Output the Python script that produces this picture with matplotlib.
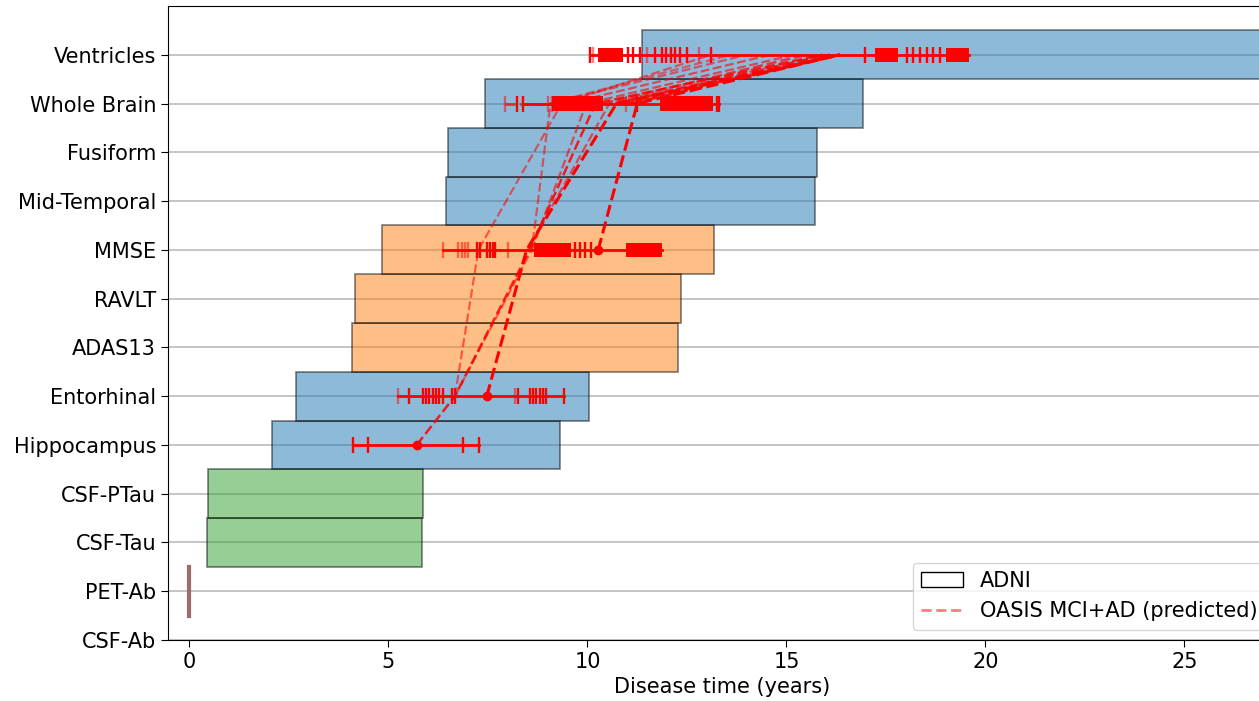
import numpy as np
import matplotlib
matplotlib.use('Agg')
import matplotlib.pyplot as plt
from matplotlib.patches import Patch
from matplotlib.lines import Line2D

# Biomarker rows (bottom to top)
labels = ['CSF-Ab', 'PET-Ab', 'CSF-Tau', 'CSF-PTau', 'Hippocampus', 'Entorhinal',
          'ADAS13', 'RAVLT', 'MMSE', 'Mid-Temporal', 'Fusiform', 'Whole Brain', 'Ventricles']
bar_start = [np.nan, 0.0, 0.44, 0.46, 2.07, 2.68, 4.08, 4.16, 4.84, 6.44, 6.50, 7.42, 11.37]
bar_end = [np.nan, 0.0, 5.84, 5.87, 9.31, 10.04, 12.27, 12.35, 13.18, 15.72, 15.77, 16.92, 30.0]
bar_color = ['tab:brown', 'tab:brown', 'tab:green', 'tab:green', 'tab:blue', 'tab:blue',
             'tab:orange', 'tab:orange', 'tab:orange', 'tab:blue', 'tab:blue', 'tab:blue', 'tab:blue']

# OASIS predicted event times: row -> horizontal range, caps, dense cap blocks, dot
hip_line = [4.10, 7.28]
hip_caps = [4.10, 4.49, 6.88, 7.28]
hip_dot = 5.71

ent_line = [5.25, 9.41]
ent_caps = [5.51, 5.87, 5.95, 6.03, 6.12, 6.20, 6.28, 6.36, 6.59, 6.67, 8.26, 8.55, 8.63, 8.71, 8.80, 8.88, 8.97, 9.41]
ent_faint = [5.25, 8.18]
ent_dot = 7.47

mmse_line = [6.38, 11.88]
mmse_caps = [7.22, 7.30, 7.48, 7.55, 7.62, 7.68, 9.69, 9.81, 9.94, 10.10]
mmse_faint = [6.38, 6.75, 6.84, 6.92, 7.00, 8.00]
mmse_blocks = [(8.66, 9.58), (10.96, 11.88)]
mmse_dot = 10.27

wb_line = [8.39, 13.30]
wb_dash = [7.93, 9.02]
wb_caps = [8.22, 8.39, 11.24, 13.25, 13.30]
wb_faint = [7.93, 9.02, 9.10, 10.98]
wb_blocks = [(9.10, 10.40), (11.82, 13.16)]

ven_line = [10.06, 19.59]
ven_caps = [10.06, 11.03, 11.15, 11.32, 11.70, 11.86, 11.98, 12.10, 12.20, 12.32, 12.49, 13.10,
            16.97, 18.02, 18.19, 18.36, 18.52, 18.69, 18.86]
ven_faint = [10.15, 11.50, 12.80]
ven_blocks = [(10.26, 10.89), (17.22, 17.80), (19.02, 19.59)]

# subject trajectories: (row index, time) pairs, with line alpha
traj_rows = [[5, 8, 11, 12], [8, 11, 12], [4, 5, 8, 11, 12], [5, 8, 11, 12], [5, 8, 11, 12],
             [8, 11, 12], [8, 11, 12], [11, 12], [11, 12], [11, 12], [11, 12], [11, 12], [11, 12]]
traj_times = [[7.47, 8.47, 10.73, 16.34], [10.27, 11.25, 16.34], [5.71, 6.67, 8.55, 10.20, 15.90],
              [6.67, 7.26, 9.35, 13.10], [6.67, 8.60, 9.07, 14.00], [8.60, 9.97, 15.20],
              [8.50, 10.55, 16.00], [9.05, 13.60], [9.50, 14.60], [10.40, 15.50],
              [10.90, 16.34], [11.10, 16.34], [10.70, 16.10]]
traj_alpha = [1.0, 1.0, 0.85, 0.55, 0.55, 0.6, 0.6, 0.5, 0.6, 0.7, 0.8, 0.9, 0.8]
traj_lw = [2.2, 2.2, 1.8, 1.6, 1.6, 1.6, 1.6, 1.6, 1.6, 1.8, 2.0, 2.0, 2.0]

fs = 15

fig = plt.figure(figsize=(12.59, 7.01), dpi=100)
ax = fig.add_axes([168/1259, 61/701, 1108/1259, 634/701])

ypos = np.arange(len(labels))
for i in range(len(labels)):
    if np.isnan(bar_start[i]):
        continue
    if bar_end[i] - bar_start[i] == 0:
        ax.plot([bar_start[i], bar_start[i]], [ypos[i]-0.5, ypos[i]+0.5], color='#9c6b6b', lw=3, zorder=3)
    else:
        ax.barh(ypos[i], bar_end[i]-bar_start[i], left=bar_start[i], height=1.0,
                color=bar_color[i], alpha=0.5, edgecolor='black', lw=1.2, zorder=2)

# trajectories
for r, t, a, w in zip(traj_rows, traj_times, traj_alpha, traj_lw):
    ax.plot(t, r, color='red', ls='--', lw=w, alpha=a, dashes=(4, 1.6), zorder=4)

# event time markers per row
rows = [(4, hip_line, hip_caps, [], [], hip_dot),
        (5, ent_line, ent_caps, ent_faint, [], ent_dot),
        (8, mmse_line, mmse_caps, mmse_faint, mmse_blocks, mmse_dot),
        (11, wb_line, wb_caps, wb_faint, wb_blocks, None),
        (12, ven_line, ven_caps, ven_faint, ven_blocks, None)]
for y, ln, caps, faint, blocks, dot in rows:
    ax.plot(ln, [y, y], color='red', lw=2, zorder=5)
    ax.plot(caps, [y]*len(caps), '|', color='red', ms=11, mew=1.7, zorder=5)
    if faint:
        ax.plot(faint, [y]*len(faint), '|', color='red', ms=11, mew=1.7, alpha=0.5, zorder=5)
    for lo, hi in blocks:
        ax.barh(y, hi-lo, left=lo, height=0.29, color='red', lw=0, zorder=5)
    if dot is not None:
        ax.plot(dot, y, 'o', color='red', ms=6, zorder=6)
ax.plot(wb_dash, [11, 11], color='red', ls='--', lw=2, alpha=0.7, zorder=5)

ax.set_xlim(-0.54, 27.3)
ax.set_ylim(0, 13)
ax.set_yticks(ypos)
ax.set_yticklabels(labels, fontsize=fs)
ax.set_xticks([0, 5, 10, 15, 20, 25])
ax.tick_params(axis='x', labelsize=fs, length=5)
ax.tick_params(axis='y', length=5)
ax.set_xlabel('Disease time (years)', fontsize=fs)
ax.grid(axis='y', color='#c0c0c0', lw=1.3)
ax.set_axisbelow(True)

handles = [Patch(facecolor='white', edgecolor='black', label='ADNI'),
           Line2D([0], [0], color='red', ls='--', lw=2, alpha=0.5, label='OASIS MCI+AD (predicted)')]
ax.legend(handles=handles, loc='lower right', fontsize=fs)

fig.savefig('out.png', dpi=100)
